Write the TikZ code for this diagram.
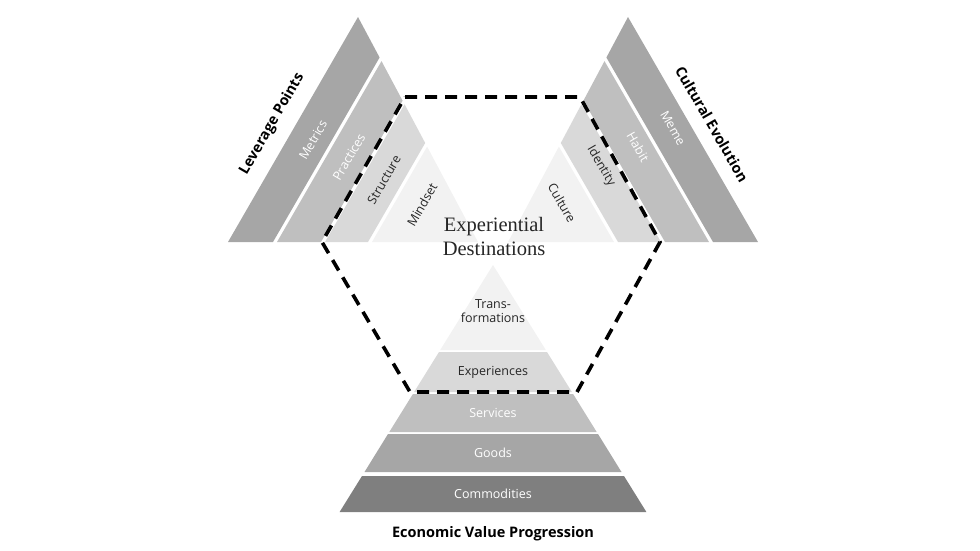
\documentclass[tikz,border=0pt]{standalone}
\usepackage{fontspec}
\setmainfont{Liberation Serif}
\setsansfont{Open Sans}
\usetikzlibrary{positioning}
\definecolor{gA}{HTML}{7F7F7F}
\definecolor{gB}{HTML}{A6A6A6}
\definecolor{gC}{HTML}{BFBFBF}
\definecolor{gD}{HTML}{D9D9D9}
\definecolor{gE}{HTML}{F2F2F2}
\definecolor{ink}{HTML}{262626}
\tikzset{
  band/.style={draw=none},
  lbl/.style={font=\sffamily\fontsize{12.5}{14.5}\selectfont,inner sep=0pt,align=center},
  ttl/.style={font=\sffamily\bfseries\fontsize{14.5}{16}\selectfont,inner sep=0pt},
  hexa/.style={line width=3.6pt,dash pattern=on 12pt off 8pt}
}
\begin{document}
\begin{tikzpicture}[x=1pt,y=-1pt]
\useasboundingbox (0,0) rectangle (980,551);

% left triangle
\fill [gB] (228,242)--(358,17)--(379.6,57.5)--(273,242)--cycle;
\fill [gC] (277,242)--(381.5,61.1)--(402.6,100.7)--(321,242)--cycle;
\fill [gD] (325,242)--(404.6,104.3)--(425.2,143)--(368,242)--cycle;
\fill [gE] (372,242)--(427.1,146.6)--(478,242)--cycle;
% right triangle
\begin{scope}[xshift=986pt,xscale=-1]
\fill [gB] (228,242)--(358,17)--(379.6,57.5)--(273,242)--cycle;
\fill [gC] (277,242)--(381.5,61.1)--(402.6,100.7)--(321,242)--cycle;
\fill [gD] (325,242)--(404.6,104.3)--(425.2,143)--(368,242)--cycle;
\fill [gE] (372,242)--(427.1,146.6)--(478,242)--cycle;
\end{scope}
% bottom pyramid
\fill [gE] (493,265)--(545.8,350)--(440.2,350)--cycle;
\fill [gD] (439,352)--(547,352)--(571.9,392)--(414.1,392)--cycle;
\fill [gC] (412.9,394)--(573.1,394)--(596.7,432)--(389.3,432)--cycle;
\fill [gB] (388,434)--(598,434)--(621.5,472)--(364.5,472)--cycle;
\fill [gA] (362,476)--(624,476)--(646.4,512)--(339.6,512)--cycle;

% dashed frame
\coordinate (h1) at (405,97);
\coordinate (h2) at (580,97);
\coordinate (h3) at (660,242);
\coordinate (h4) at (577,392);
\coordinate (h5) at (410,392);
\coordinate (h6) at (322,242);
\draw [hexa] (h1)--(h2)--(h3)--(h4)--(h5)--(h6)--cycle;

% band labels
\node [lbl,white,rotate=60] (metrics) at (313,140) {Metrics};
\node [lbl,white,rotate=60] (practices) at (349,157) {Practices};
\node [lbl,ink,rotate=60] (structure) at (384,180) {Structure};
\node [lbl,ink,rotate=60] (mindset) at (422,205) {Mindset};
\node [lbl,ink,rotate=-60] (culture) at (562,203) {Culture};
\node [lbl,ink,rotate=-60] (identity) at (601,166) {Identity};
\node [lbl,white,rotate=-60] (habit) at (638,147) {Habit};
\node [lbl,white,rotate=-60] (meme) at (673,128) {Meme};
\node [lbl,ink] (trans) at (493,311) {Trans-\\formations};
\node [lbl,ink] (exper) at (493,372) {Experiences};
\node [lbl,white] (services) at (493,413) {Services};
\node [lbl,white] (goods) at (493,453) {Goods};
\node [lbl,white] (commod) at (493,494) {Commodities};

% titles
\node [ttl,rotate=60] (lever) at (272,124) {Leverage Points};
\node [ttl,rotate=-60] (cultural) at (712,124) {Cultural Evolution};
\node [ttl] (econ) at (493,534) {Economic Value Progression};
\node [font=\fontsize{20.5}{24}\selectfont,align=center,inner sep=0pt,ink] (dest) at (494,236) {Experiential\\Destinations};

\end{tikzpicture}
\end{document}
